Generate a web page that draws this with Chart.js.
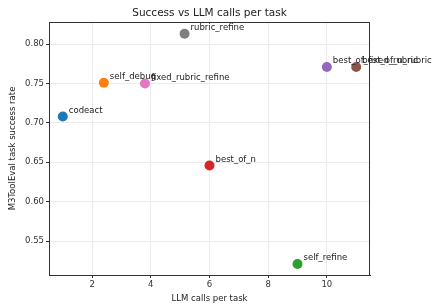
<!DOCTYPE html>
<html>
<head>
<meta charset="utf-8">
<script src="https://cdn.jsdelivr.net/npm/chart.js@4/dist/chart.umd.min.js"></script>
<style>
  html, body { margin: 0; padding: 0; background: #fff; }
  #wrap { width: 434px; height: 304px; }
</style>
</head>
<body>
<div id="wrap"><canvas id="scatterChart" width="434" height="304"></canvas></div>
<script>
// data
const methods = ["codeact", "self_debug", "self_refine", "best_of_n", "best_of_fixed_rubric",
                 "best_of_n_rubric", "fixed_rubric_refine", "rubric_refine"];
const calls = [1, 2.4, 9, 6, 10, 11, 3.8, 5.15];
const success = [0.708, 0.751, 0.521, 0.646, 0.771, 0.771, 0.750, 0.813];
const pointColors = ["#1f77b4", "#ff7f0e", "#2ca02c", "#d62728", "#9467bd", "#8c564b", "#e377c2", "#7f7f7f"];
const xTicks = [2, 4, 6, 8, 10];
const yTicks = [0.55, 0.60, 0.65, 0.70, 0.75, 0.80];

const FONT = "'DejaVu Sans', sans-serif";
const TITLE = "Success vs LLM calls per task";

// title over the plot, names next to the points and the closed frame
const annotate = {
    id: "annotate",
    afterDatasetsDraw(chart) {
        const ctx = chart.ctx;
        const area = chart.chartArea;
        ctx.save();
        ctx.strokeStyle = "#333";
        ctx.lineWidth = 1;
        ctx.strokeRect(area.left + 0.5, area.top + 0.5, area.right - area.left - 1, area.bottom - area.top);

        ctx.fillStyle = "#222";
        ctx.font = "10.5px " + FONT;
        ctx.textAlign = "center";
        ctx.textBaseline = "middle";
        ctx.fillText(TITLE, (area.left + area.right) / 2, 13);

        ctx.font = "8.5px " + FONT;
        ctx.textAlign = "left";
        chart.getDatasetMeta(0).data.forEach((pt, i) => {
            ctx.fillText(methods[i], pt.x + 6, pt.y - 6);
        });
        ctx.restore();
    }
};

const ctx = document.getElementById("scatterChart").getContext("2d");
new Chart(ctx, {
    type: "scatter",
    data: {
        datasets: [{
            data: calls.map((c, i) => ({ x: c, y: success[i] })),
            backgroundColor: pointColors,
            borderColor: pointColors,
            pointRadius: 5,
            borderWidth: 0,
        }],
    },
    options: {
        responsive: false,
        animation: false,
        layout: { padding: { right: 64, left: 0, top: 22, bottom: 0 } },
        plugins: {
            legend: { display: false },
            tooltip: { enabled: false },
            title: { display: false },
        },
        scales: {
            x: {
                type: "linear",
                min: 0.53,
                max: 11.47,
                afterBuildTicks: (s) => { s.ticks = xTicks.map((v) => ({ value: v })); },
                afterFit: (s) => { s.height = 29; },
                ticks: { color: "#333", font: { family: FONT, size: 8.5 }, padding: 2 },
                grid: { color: "#ebebeb", tickColor: "#333", tickLength: 3 },
                border: { color: "#333" },
                title: { display: true, text: "LLM calls per task", color: "#222",
                         font: { family: FONT, size: 8.5 }, padding: 0 },
            },
            y: {
                type: "linear",
                min: 0.507,
                max: 0.828,
                afterBuildTicks: (s) => { s.ticks = yTicks.map((v) => ({ value: v })); },
                afterFit: (s) => { s.width = 49; },
                ticks: { color: "#333", font: { family: FONT, size: 8.5 }, padding: 2,
                         callback: (v) => v.toFixed(2) },
                grid: { color: "#ebebeb", tickColor: "#333", tickLength: 3 },
                border: { color: "#333" },
                title: { display: true, text: "M3ToolEval task success rate", color: "#222",
                         font: { family: FONT, size: 8.5 }, padding: { top: 8, bottom: 0 } },
            },
        },
    },
    plugins: [annotate],
});
</script>
</body>
</html>
